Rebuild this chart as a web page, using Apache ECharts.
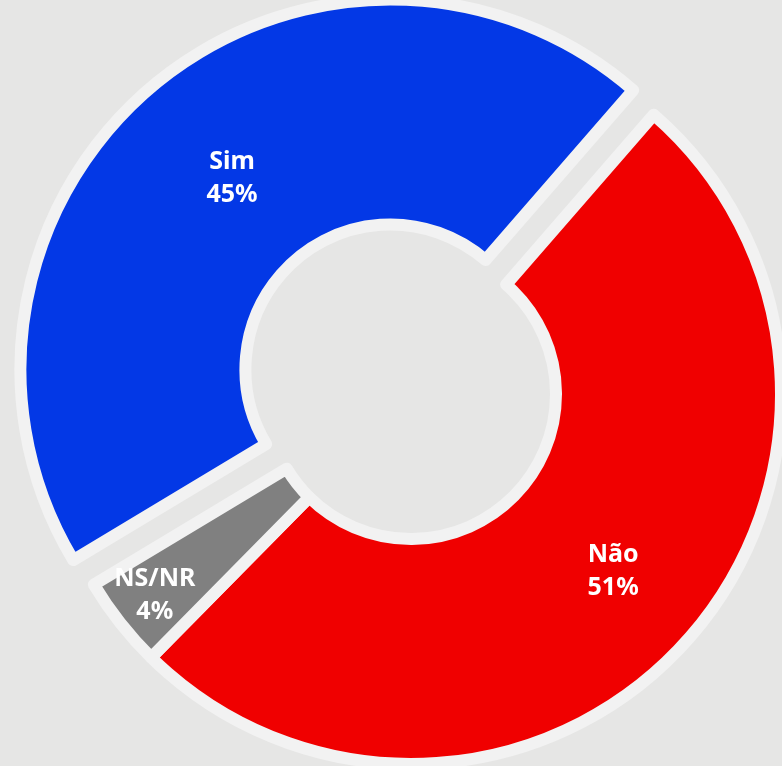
<!DOCTYPE html>
<html>
<head>
<meta charset="utf-8" />
<title>Sim / Não / NS/NR</title>
<script src="https://cdn.jsdelivr.net/npm/echarts@6/dist/echarts.min.js"></script>
<style>
  html, body { margin: 0; padding: 0; background: #e6e6e5; }
  #chart { width: 782px; height: 766px; }
</style>
</head>
<body>
<div id="chart"></div>
<script>
// respostas e percentagens
const categories = ["Sim", "Não", "NS/NR"];
const values = [45, 51, 4];
const colors = ["#0338e6", "#f00000", "#808080"];
// só a fatia Sim está destacada do centro
const exploded = [true, false, false];

// pequenos ajustes dos rótulos (espaço em cima, padding lateral)
const labelNudge = {
  "Sim": { gap: 16, padding: [0, 0, 0, 18] },
  "Não": { gap: 0, padding: [0, 0, 0, 22] },
  "NS/NR": { gap: 80, padding: [0, 103, 0, 0] },
};

const chart = echarts.init(document.getElementById("chart"));

const data = categories.map((name, i) => {
  const n = labelNudge[name];
  return {
    name: name,
    value: values[i],
    selected: exploded[i],
    itemStyle: { color: colors[i] },
    label: {
      padding: n.padding,
      rich: { g: { height: n.gap, lineHeight: n.gap } },
    },
  };
});

const option = {
  backgroundColor: "#e6e6e5",
  animation: false,
  series: [
    {
      type: "pie",
      center: [411, 394],
      radius: [145, 370],
      startAngle: 211,
      clockwise: true,
      selectedMode: "multiple",
      selectedOffset: 32,
      avoidLabelOverlap: false,
      itemStyle: {
        borderColor: "#f2f2f2",
        borderWidth: 12,
        borderJoin: "round",
      },
      label: {
        show: true,
        position: "inside",
        formatter: (p) => (labelNudge[p.name].gap ? "{g|}\n" : "") + p.name + "\n" + p.value + "%",
        color: "#ffffff",
        fontFamily: "Noto Sans",
        fontWeight: "bold",
        fontSize: 25,
        lineHeight: 33,
        align: "center",
      },
      labelLine: { show: false },
      emphasis: { disabled: true },
      data: data,
    },
  ],
};

chart.setOption(option);
</script>
</body>
</html>
